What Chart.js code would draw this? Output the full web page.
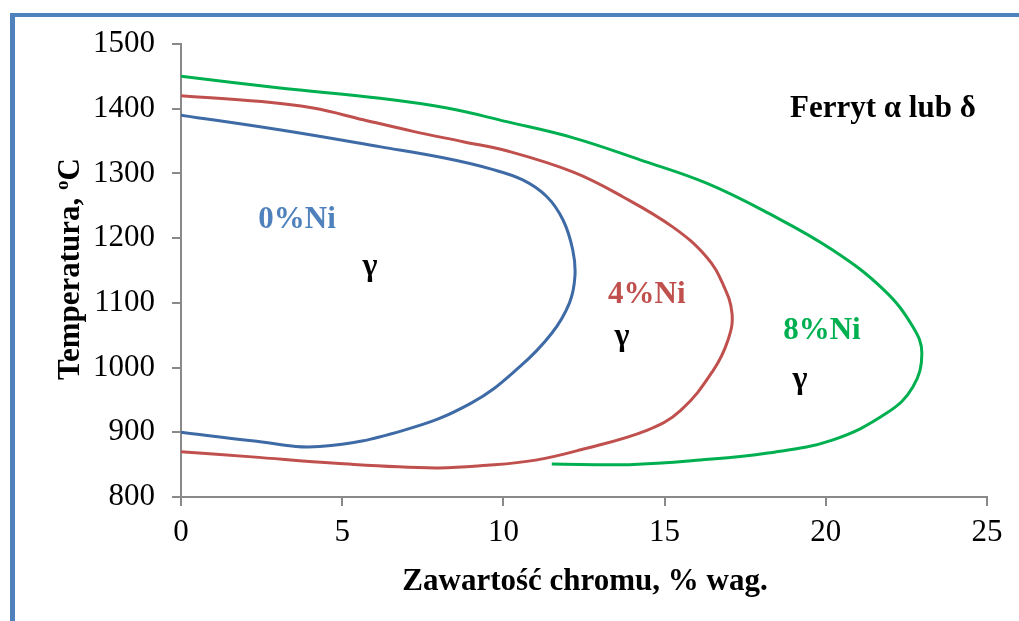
<!DOCTYPE html>
<html>
<head>
<meta charset="utf-8">
<script src="https://cdn.jsdelivr.net/npm/chart.js@4"></script>
<style>
  html, body { margin: 0; padding: 0; background: #fff; }
  #wrap { width: 1019px; height: 621px; }
</style>
</head>
<body>
<div id="wrap"><canvas id="chart" width="1019" height="621"></canvas></div>
<script>
// 0% Ni
var ni0Cr   = [0, 3.1, 6.2, 8.25, 9.6, 10.6, 11.35, 11.85, 12.15, 12.22, 12.05, 11.5, 10.5, 9, 6.9, 4.3, 2.2, 0];
var ni0Temp = [1390, 1367, 1341, 1323, 1307, 1290, 1264, 1228, 1182, 1142, 1100, 1053, 1001, 945, 903, 878, 887, 900];
// 4% Ni
var ni4Cr   = [0, 2.5, 4.1, 5.65, 7.2, 8.75, 10.1, 12.17, 13.7, 15.26, 16.3, 16.8, 17.09, 16.97, 16.5, 15.5, 14.45, 12.4, 11, 9.5, 7.9, 4.8, 2.2, 0];
var ni4Temp = [1420, 1411, 1401, 1383, 1365, 1349, 1335, 1302, 1264, 1217, 1171, 1130, 1084, 1043, 995, 934, 903, 873, 857, 849, 845, 852, 862, 870];
// 8% Ni
var ni8Cr   = [0, 3.07, 6.17, 8.25, 10.1, 12.17, 14.24, 16.3, 18.2, 20.2, 21.8, 22.7, 22.98, 22.7, 21.9, 20.2, 18.2, 16.1, 13.9, 11.5];
var ni8Temp = [1450, 1432, 1416, 1401, 1380, 1355, 1321, 1285, 1239, 1182, 1120, 1063, 1022, 970, 930, 888, 868, 857, 850, 851];

var xTicks = [0, 5, 10, 15, 20, 25];
var yTicks = [800, 900, 1000, 1100, 1200, 1300, 1400, 1500];

function toPoints(xs, ys) {
  return xs.map(function (x, i) { return { x: x, y: ys[i] }; });
}

var serif = '"Liberation Serif", "Times New Roman", serif';

// frame and text drawn on the canvas
var decor = {
  id: 'decor',
  beforeDraw: function (chart) {
    var c = chart.ctx;
    c.save();
    c.fillStyle = '#fff';
    c.fillRect(0, 0, chart.width, chart.height);
    c.fillStyle = '#4F81BD';
    c.fillRect(10, 13, chart.width - 10, 4);
    c.fillRect(10, 13, 5, chart.height - 13);
    c.restore();
  },
  afterDatasetsDraw: function (chart) {
    var c = chart.ctx;
    var xs = chart.scales.x, ys = chart.scales.y;
    function label(text, x, t, color, size) {
      c.fillStyle = color;
      c.font = 'bold ' + size + 'px ' + serif;
      c.fillText(text, xs.getPixelForValue(x), ys.getPixelForValue(t));
    }
    c.save();
    c.textAlign = 'center';
    c.textBaseline = 'alphabetic';
    label('Ferryt \u03b1 lub \u03b4', 21.77, 1387, '#000', 31);
    label('0%Ni', 3.6, 1216, '#4F81BD', 31);
    label('\u03b3', 5.86, 1143, '#000', 32);
    label('4%Ni', 14.45, 1100, '#C0504D', 31);
    label('\u03b3', 13.68, 1035, '#000', 32);
    label('8%Ni', 19.88, 1044, '#00B050', 31);
    label('\u03b3', 19.2, 968, '#000', 32);

    // x title
    c.fillStyle = '#000';
    c.font = 'bold 31px ' + serif;
    c.fillText('Zawarto\u015b\u0107 chromu, % wag.', 585, 590);

    // y title with superscript o
    c.translate(79, 269);
    c.rotate(-Math.PI / 2);
    c.textAlign = 'left';
    var main = 'Temperatura, ';
    var w1 = c.measureText(main).width;
    var wC = c.measureText('C').width;
    c.font = 'bold 19px ' + serif;
    var wo = c.measureText('o').width;
    var total = w1 + wo + wC;
    var sx = -total / 2;
    c.font = 'bold 31px ' + serif;
    c.fillText(main, sx, 0);
    c.font = 'bold 19px ' + serif;
    c.fillText('o', sx + w1, -11);
    c.font = 'bold 31px ' + serif;
    c.fillText('C', sx + w1 + wo, 0);
    c.restore();
  }
};

function line(data, color) {
  return {
    data: data,
    showLine: true,
    borderColor: color,
    backgroundColor: color,
    borderWidth: 3,
    pointRadius: 0,
    tension: 0.4,
    fill: false
  };
}

var ctx = document.getElementById('chart');
var chart = new Chart(ctx, {
  type: 'scatter',
  data: {
    datasets: [
      line(toPoints(ni0Cr, ni0Temp), '#3E6AA5'),
      line(toPoints(ni4Cr, ni4Temp), '#C0504D'),
      line(toPoints(ni8Cr, ni8Temp), '#00B050')
    ]
  },
  options: {
    responsive: false,
    animation: false,
    layout: { padding: { top: 44, right: 32, left: 0, bottom: 0 } },
    plugins: {
      legend: { display: false },
      tooltip: { enabled: false }
    },
    scales: {
      x: {
        type: 'linear',
        min: 0,
        max: 25,
        afterBuildTicks: function (s) { s.ticks = xTicks.map(function (v) { return { value: v }; }); },
        afterFit: function (s) { s.height = 124; },
        grid: { drawOnChartArea: false, drawTicks: true, tickLength: 9, color: '#898989', lineWidth: 2 },
        border: { display: true, color: '#898989', width: 2 },
        ticks: {
          color: '#000', padding: 8, maxRotation: 0,
          font: { family: serif, size: 31 },
          callback: function (v) { return String(v); }
        }
      },
      y: {
        type: 'linear',
        min: 800,
        max: 1500,
        afterBuildTicks: function (s) { s.ticks = yTicks.map(function (v) { return { value: v }; }); },
        afterFit: function (s) { s.width = 181; },
        grid: { drawOnChartArea: false, drawTicks: true, tickLength: 9, color: '#898989', lineWidth: 2 },
        border: { display: true, color: '#898989', width: 2 },
        ticks: {
          color: '#000', padding: 17,
          font: { family: serif, size: 31 },
          callback: function (v) { return String(v); }
        }
      }
    }
  },
  plugins: [decor]
});
</script>
</body>
</html>
